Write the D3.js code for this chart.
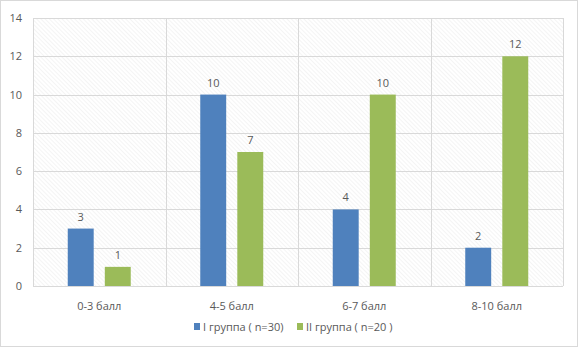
<!DOCTYPE html>
<html>
<head>
<meta charset="utf-8">
<script src="https://d3js.org/d3.v7.min.js"></script>
<style>
  body { margin: 0; background: #fff; }
  text { font-family: "Open Sans", "Liberation Sans", sans-serif; fill: #595959; }
</style>
</head>
<body>
<script>
// data
var categories = ["0-3 балл", "4-5 балл", "6-7 балл", "8-10 балл"];
var seriesNames = ["I группа ( n=30)", "II группа ( n=20 )"];
var group1 = [3, 10, 4, 2];
var group2 = [1, 7, 10, 12];
var yTicks = [0, 2, 4, 6, 8, 10, 12, 14];
var colors = ["#4f81bd", "#9bbb59"];

var W = 578, H = 347;
var margin = {left: 33, right: 15, top: 18, bottom: 61};

var svg = d3.select("body").append("svg")
    .attr("width", W).attr("height", H);

// outer border
svg.append("rect")
    .attr("x", 0.5).attr("y", 0.5)
    .attr("width", W - 1).attr("height", H - 1)
    .attr("fill", "#fff").attr("stroke", "#d9d9d9");

// hatch pattern
var pat = svg.append("defs").append("pattern")
    .attr("id", "hatch")
    .attr("patternUnits", "userSpaceOnUse")
    .attr("width", 3).attr("height", 3)
    .attr("patternTransform", "rotate(-45)");
pat.append("rect").attr("width", 3).attr("height", 3).attr("fill", "#fff");
pat.append("line").attr("x1", 0).attr("y1", 0).attr("x2", 0).attr("y2", 3)
    .attr("stroke", "#ededed").attr("stroke-width", 1.2);

var x0 = d3.scaleBand().domain(categories)
    .range([margin.left, W - margin.right]);
var y = d3.scaleLinear().domain([0, 14])
    .range([H - margin.bottom, margin.top]);

var x1 = d3.scaleBand().domain([0, 1])
    .range([0, 63]).paddingInner(0.3);

svg.append("rect")
    .attr("x", margin.left).attr("y", margin.top)
    .attr("width", W - margin.left - margin.right)
    .attr("height", H - margin.top - margin.bottom)
    .attr("fill", "url(#hatch)");

// horizontal gridlines
svg.append("g").selectAll("line")
    .data(yTicks)
    .join("line")
    .attr("x1", margin.left).attr("x2", W - margin.right)
    .attr("y1", d => Math.round(y(d)) + 0.5)
    .attr("y2", d => Math.round(y(d)) + 0.5)
    .attr("stroke", "#d9d9d9");

// vertical gridlines at category borders
var borders = categories.map(c => x0(c)).concat([W - margin.right]);
svg.append("g").selectAll("line")
    .data(borders)
    .join("line")
    .attr("x1", d => Math.round(d) + 0.5).attr("x2", d => Math.round(d) + 0.5)
    .attr("y1", margin.top).attr("y2", H - margin.bottom)
    .attr("stroke", "#d9d9d9");

// y axis labels
svg.append("g").selectAll("text")
    .data(yTicks)
    .join("text")
    .attr("x", 22)
    .attr("y", d => y(d) + 4)
    .attr("text-anchor", "end")
    .attr("font-size", 11)
    .text(d => d);

// bars
var rows = categories.map((c, i) => ({cat: c, vals: [group1[i], group2[i]]}));
var grp = svg.append("g").selectAll("g")
    .data(rows)
    .join("g")
    .attr("transform", d => "translate(" + (x0(d.cat) + x0.bandwidth() / 2 - 31.5) + ",0)");

grp.selectAll("rect")
    .data(d => d.vals)
    .join("rect")
    .attr("x", (d, i) => x1(i))
    .attr("y", d => y(d))
    .attr("width", x1.bandwidth())
    .attr("height", d => y(0) - y(d))
    .attr("fill", (d, i) => colors[i]);

grp.selectAll("text")
    .data(d => d.vals)
    .join("text")
    .attr("x", (d, i) => x1(i) + x1.bandwidth() / 2)
    .attr("y", d => y(d) - 8)
    .attr("text-anchor", "middle")
    .attr("font-size", 11)
    .text(d => d);

// x labels
svg.append("g").selectAll("text")
    .data(categories)
    .join("text")
    .attr("x", d => x0(d) + x0.bandwidth() / 2)
    .attr("y", 310)
    .attr("text-anchor", "middle")
    .attr("font-size", 11)
    .text(d => d);

// legend
var legX = [194, 297];
var leg = svg.append("g").selectAll("g")
    .data(seriesNames)
    .join("g")
    .attr("transform", (d, i) => "translate(" + legX[i] + ",323)");
leg.append("rect")
    .attr("width", 6).attr("height", 7)
    .attr("fill", (d, i) => colors[i]);
leg.append("text")
    .attr("x", 9).attr("y", 7.5)
    .attr("font-size", 11)
    .text(d => d);
</script>
</body>
</html>
